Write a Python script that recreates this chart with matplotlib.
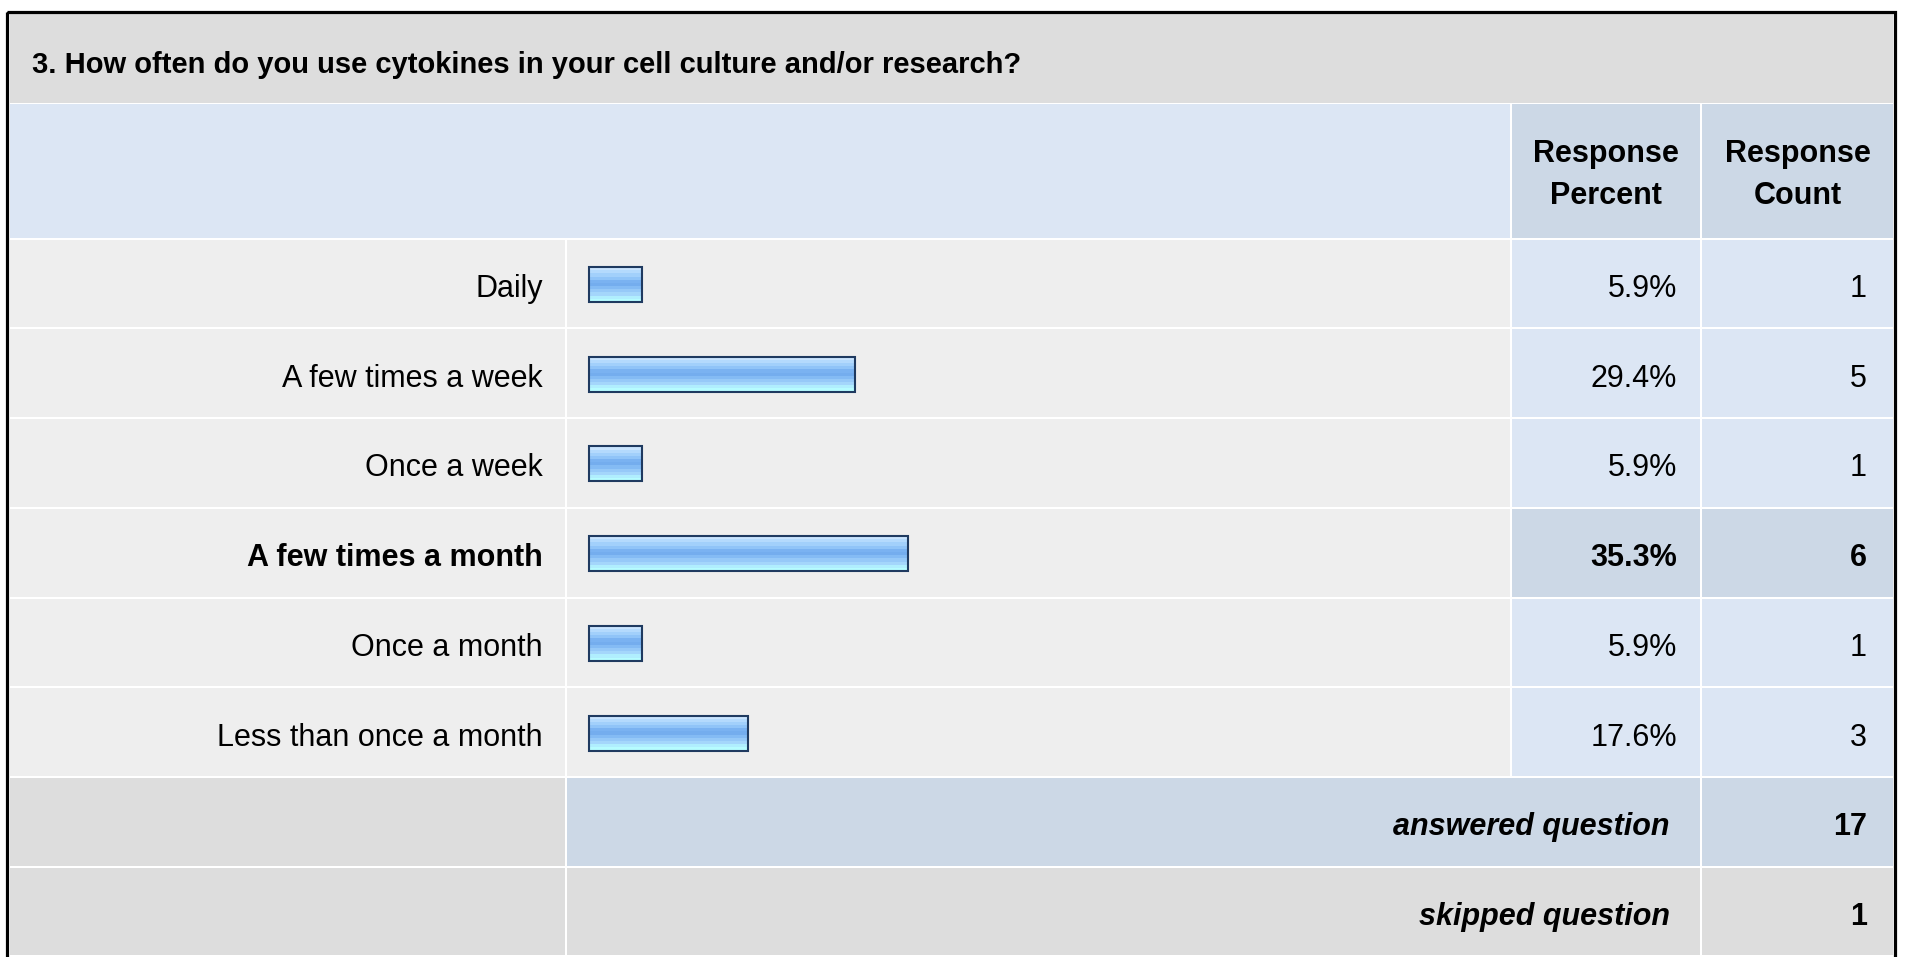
import matplotlib.pyplot as plt
from matplotlib.patches import Rectangle

plt.rcParams['font.family'] = ['Liberation Sans', 'DejaVu Sans']

title = "3. How often do you use cytokines in your cell culture and/or research?"
answers = ["Daily", "A few times a week", "Once a week",
           "A few times a month", "Once a month", "Less than once a month"]
percents = [5.9, 29.4, 5.9, 35.3, 5.9, 17.6]
counts = [1, 5, 1, 6, 1, 3]
answered = 17
skipped = 1
highlight = 3  # row drawn in bold

# glossy bar, top to bottom
bar_colors = ['#c9e4fe', '#b4dafd', '#a2d0fb', '#90c4f8', '#7ab2f1', '#74adee',
              '#84bbf4', '#96c9f8', '#a4d6fb', '#b0eefe', '#b6fcff']

GRAY = '#dddddd'
ROW = '#eeeeee'
BLUE = '#dce6f4'
BLUE2 = '#ccd8e6'

W, H = 1915, 957
fig = plt.figure(figsize=(W / 100, H / 100), dpi=100)
ax = fig.add_axes([0, 0, 1, 1])
ax.set_xlim(0, W)
ax.set_ylim(H, 0)
ax.axis('off')


def cell(x0, x1, y0, y1, color):
    ax.add_patch(Rectangle((x0, y0), x1 - x0, y1 - y0, facecolor=color,
                           edgecolor='none'))


# column edges
LAB = (10, 565)
BAR = (567, 1510)
PCT = (1512, 1700)
CNT = (1702, 1893)
ROW0, PITCH, GAP = 239.7, 89.7, 2.0

# title and header bands
cell(10, 1893, 13, 102.7, GRAY)
ax.text(32, 73, title, fontsize=21, fontweight='bold', ha='left', va='baseline')
cell(10, BAR[1], 104, 237.7, BLUE)
cell(*PCT, 104, 237.7, BLUE2)
cell(*CNT, 104, 237.7, BLUE2)
for (x0, x1), lab in [(PCT, "Response\nPercent"), (CNT, "Response\nCount")]:
    ax.text((x0 + x1) / 2, 175, lab, fontsize=22, fontweight='bold',
            ha='center', va='center', multialignment='center', linespacing=1.52)

# answer rows
for i, (a, p, c) in enumerate(zip(answers, percents, counts)):
    y0 = ROW0 + i * PITCH
    y1 = y0 + PITCH - GAP
    base = (y0 + y1) / 2 + 13.5
    hl = i == highlight
    cell(*LAB, y0, y1, ROW)
    cell(*BAR, y0, y1, ROW)
    cell(*PCT, y0, y1, BLUE2 if hl else BLUE)
    cell(*CNT, y0, y1, BLUE2 if hl else BLUE)
    fw = 'bold' if hl else 'normal'
    ax.text(LAB[1] - 22, base, a, fontsize=22, fontweight=fw, ha='right', va='baseline')
    ax.text(PCT[1] - 23, base, f"{p:.1f}%", fontsize=22, fontweight=fw,
            ha='right', va='baseline')
    ax.text(CNT[1] - 26, base, str(c), fontsize=22, fontweight=fw,
            ha='right', va='baseline')

# summary rows
for j, (lab, val, mid) in enumerate([("answered question", answered, BLUE2),
                                     ("skipped question", skipped, GRAY)]):
    y0 = ROW0 + (len(answers) + j) * PITCH
    y1 = y0 + PITCH - GAP
    base = (y0 + y1) / 2 + 13.5
    cell(*LAB, y0, y1, GRAY)
    cell(BAR[0], PCT[1], y0, y1, mid)
    cell(*CNT, y0, y1, mid)
    ax.text(PCT[1] - 30, base, lab, fontsize=22, fontweight='bold', style='italic',
            ha='right', va='baseline')
    ax.text(CNT[1] - 26, base, str(val), fontsize=22, fontweight='bold',
            ha='right', va='baseline')

# outer frame
ax.add_patch(Rectangle((7.5, 11.5), 1895 - 7.5, 1000, facecolor='none',
                       edgecolor='black', linewidth=2.3))

# bars, drawn in their own axes over the bar column
top = ROW0
bottom = ROW0 + len(answers) * PITCH
bx = fig.add_axes([BAR[0] / W, 1 - bottom / H, (BAR[1] - BAR[0]) / W, (bottom - top) / H])
bx.patch.set_alpha(0)
bx.axis('off')
px_per_pct = 9.05
zero_px = 589
bx.set_xlim(-(zero_px - BAR[0]) / px_per_pct, (BAR[1] - zero_px) / px_per_pct)
bx.set_ylim(len(answers) - 0.5, -0.5)

h = 0.39
n = len(bar_colors)
ys = list(range(len(answers)))
for k, col in enumerate(bar_colors):
    off = -h / 2 + (k + 0.5) * h / n
    bx.barh([y + off for y in ys], percents, height=h / n + 0.002, color=col,
            linewidth=0)
bx.barh(ys, percents, height=h, fill=False, edgecolor='#1f3a60', linewidth=1.5)

fig.savefig('out.png', dpi=100)
